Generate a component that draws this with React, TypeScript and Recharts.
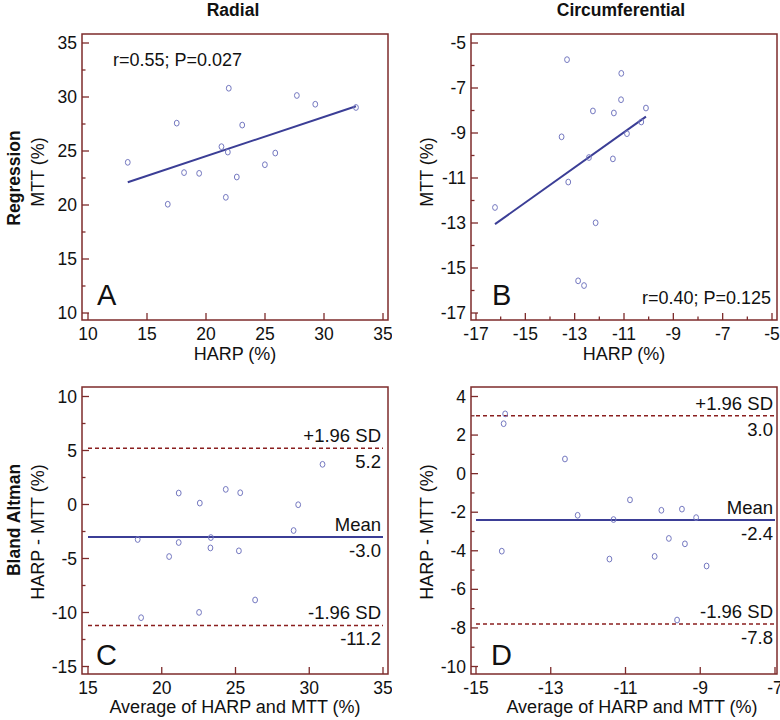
import { ComposedChart, Scatter, XAxis, YAxis, ReferenceLine } from "recharts";

const FONT = "'Liberation Sans', Arial, Helvetica, sans-serif";
const FRAME = "#7d2b2b";
const DOT = "#7478c0";
const LINE = "#3b3e96";
const DASH = "#8a1f1f";
const INK = "#111";

// A: radial regression
const radialHarp = [13.37, 16.76, 17.52, 18.14, 19.42, 21.31, 21.85, 21.93, 21.68, 22.61, 23.07, 24.99, 25.87, 27.7, 29.26, 32.71];
const radialMtt = [23.95, 20.07, 27.58, 23.0, 22.93, 25.4, 24.9, 30.81, 20.71, 22.59, 27.4, 23.73, 24.81, 30.14, 29.33, 29.03];
const radialFitX = [13.37, 32.71];
const radialFitY = [22.1, 29.15];

// B: circumferential regression
const circHarp = [-16.23, -13.53, -13.31, -13.26, -12.86, -12.62, -12.42, -12.26, -12.15, -11.45, -11.41, -11.12, -11.11, -10.88, -10.3, -10.11];
const circMtt = [-12.31, -9.17, -5.74, -11.18, -15.57, -15.78, -10.09, -8.02, -12.99, -10.15, -8.11, -7.52, -6.35, -9.03, -8.51, -7.89];
const circFitX = [-16.23, -10.11];
const circFitY = [-13.05, -8.27];

// C: radial Bland Altman
const radialAvg = [18.37, 18.6, 20.5, 21.15, 21.15, 22.58, 22.53, 23.33, 23.3, 24.34, 25.32, 25.23, 26.33, 28.94, 29.25, 30.9];
const radialDiff = [-3.24, -10.48, -4.82, 1.06, -3.52, 0.13, -9.99, -3.06, -4.02, 1.4, 1.09, -4.29, -8.84, -2.41, -0.02, 3.72];
const radialLimits = [5.2, -3.0, -11.2]; // +1.96 SD, mean, -1.96 SD

// D: circumferential Bland Altman
const circAvg = [-14.22, -14.26, -14.31, -12.62, -12.28, -11.43, -11.32, -10.88, -10.22, -10.04, -9.84, -9.62, -9.49, -9.41, -9.11, -8.83];
const circDiff = [3.1, 2.59, -4.02, 0.76, -2.16, -4.43, -2.38, -1.36, -4.29, -1.9, -3.36, -7.59, -1.84, -3.64, -2.28, -4.79];
const circLimits = [3.0, -2.4, -7.8];

// ticks (all) and labelled ticks
const aXTicks = [10, 15, 20, 25, 30, 35];
const aXLabels = [10, 15, 20, 25, 30, 35];
const aYTicks = [10, 12.5, 15, 17.5, 20, 22.5, 25, 27.5, 30, 32.5, 35];
const aYLabels = [10, 15, 20, 25, 30, 35];
const bTicks = [-17, -16, -15, -14, -13, -12, -11, -10, -9, -8, -7, -6, -5];
const bLabels = [-17, -15, -13, -11, -9, -7, -5];
const cXTicks = [15, 20, 25, 30, 35];
const cXLabels = [15, 20, 25, 30, 35];
const cYTicks = [-15, -12.5, -10, -7.5, -5, -2.5, 0, 2.5, 5, 7.5, 10];
const cYLabels = [-15, -10, -5, 0, 5, 10];
const dXTicks = [-15, -13, -11, -9, -7];
const dXLabels = [-15, -13, -11, -9, -7];
const dYTicks = [-10, -9, -8, -7, -6, -5, -4, -3, -2, -1, 0, 1, 2, 3, 4];
const dYLabels = [-10, -8, -6, -4, -2, 0, 2, 4];

const toPoints = (xs: number[], ys: number[]) => xs.map((x, i) => ({ x, y: ys[i] }));

function XTick(props: any) {
  const { x, y, payload, labels } = props;
  const major = labels.includes(payload.value);
  return (
    <g>
      <line x1={x} x2={x} y1={y} y2={y - (major ? 7 : 3.5)} stroke={FRAME} strokeWidth={1.3} />
      {major && (
        <text x={x} y={y + 20} textAnchor="middle" fontSize={17.5} fontFamily={FONT} fill={INK}>
          {payload.value}
        </text>
      )}
    </g>
  );
}

function YTick(props: any) {
  const { x, y, payload, labels } = props;
  const major = labels.includes(payload.value);
  return (
    <g>
      <line x1={x} x2={x + (major ? 7 : 3.5)} y1={y} y2={y} stroke={FRAME} strokeWidth={1.3} />
      {major && (
        <text x={x - 5} y={y + 6} textAnchor="end" fontSize={17.5} fontFamily={FONT} fill={INK}>
          {payload.value}
        </text>
      )}
    </g>
  );
}

const ring = (p: any) => (
  <ellipse cx={p.cx} cy={p.cy} rx={2.4} ry={2.9} fill="none" stroke={DOT} strokeWidth={1} />
);

const bandLabel = (top: string, bottom: string) => (props: any) => {
  const vb = props.viewBox;
  if (!vb) return null;
  const rx = vb.x + vb.width - 2;
  return (
    <g>
      <text x={rx} y={vb.y - 6} textAnchor="end" fontSize={18.5} fontFamily={FONT} fill={INK}>{top}</text>
      <text x={rx} y={vb.y + 20} textAnchor="end" fontSize={18.5} fontFamily={FONT} fill={INK}>{bottom}</text>
    </g>
  );
};

type PanelProps = {
  left: number;
  top: number;
  width: number;
  height: number;
  marginTop: number;
  marginRight: number;
  yAxisWidth: number;
  xAxisHeight: number;
  points: { x: number; y: number }[];
  xTicks: number[];
  xLabels: number[];
  yTicks: number[];
  yLabels: number[];
  xPad: { left: number; right: number };
  yPad: { top: number; bottom: number };
  children?: any;
};

function Panel(p: PanelProps) {
  const xDomain = [p.xTicks[0], p.xTicks[p.xTicks.length - 1]];
  const yDomain = [p.yTicks[0], p.yTicks[p.yTicks.length - 1]];
  return (
    <div style={{ position: "absolute", left: p.left, top: p.top }}>
      <ComposedChart
        width={p.width}
        height={p.height}
        margin={{ top: p.marginTop, right: p.marginRight, bottom: 2, left: 0 }}
      >
        <XAxis
          type="number"
          dataKey="x"
          domain={xDomain}
          ticks={p.xTicks}
          interval={0}
          padding={p.xPad}
          height={p.xAxisHeight}
          axisLine={false}
          tickLine={false}
          tickSize={0}
          tickMargin={0}
          tick={<XTick labels={p.xLabels} />}
        />
        <YAxis
          type="number"
          dataKey="y"
          domain={yDomain}
          ticks={p.yTicks}
          interval={0}
          padding={p.yPad}
          width={p.yAxisWidth}
          axisLine={false}
          tickLine={false}
          tickSize={0}
          tickMargin={0}
          tick={<YTick labels={p.yLabels} />}
        />
        {p.children}
        <Scatter data={p.points} shape={ring} isAnimationActive={false} />
      </ComposedChart>
    </div>
  );
}

const fitSegment = (xs: number[], ys: number[]) => [
  { x: xs[0], y: ys[0] },
  { x: xs[1], y: ys[1] },
];

function blandLines(xTicks: number[], limits: number[]) {
  const x0 = xTicks[0];
  const x1 = xTicks[xTicks.length - 1];
  const [upper, mean, lower] = limits;
  return [
    <ReferenceLine
      key="up"
      segment={[{ x: x0, y: upper }, { x: x1, y: upper }]}
      stroke={DASH}
      strokeWidth={1.5}
      strokeDasharray="4 3"
      label={bandLabel("+1.96 SD", upper.toFixed(1))}
    />,
    <ReferenceLine
      key="mean"
      segment={[{ x: x0, y: mean }, { x: x1, y: mean }]}
      stroke={LINE}
      strokeWidth={2}
      label={bandLabel("Mean", mean.toFixed(1))}
    />,
    <ReferenceLine
      key="low"
      segment={[{ x: x0, y: lower }, { x: x1, y: lower }]}
      stroke={DASH}
      strokeWidth={1.5}
      strokeDasharray="4 3"
      label={bandLabel("-1.96 SD", lower.toFixed(1))}
    />,
  ];
}

const txt = { fontFamily: FONT, fill: INK };

export default function App() {
  const topRow = { top: 0, height: 362, marginTop: 34, xAxisHeight: 40, yPad: { top: 9, bottom: 7 } };
  const botRow = { top: 360, height: 360, marginTop: 27, xAxisHeight: 44, yPad: { top: 9.5, bottom: 7.5 } };
  const leftCol = { left: 0, width: 392, yAxisWidth: 82, marginRight: 4 };
  const rightCol = { left: 390, width: 390, yAxisWidth: 81, marginRight: 3 };

  return (
    <div style={{ position: "absolute", left: 0, top: 0, width: 780, height: 720, background: "#fff", overflow: "hidden" }}>
      <Panel
        {...topRow}
        {...leftCol}
        points={toPoints(radialHarp, radialMtt)}
        xTicks={aXTicks}
        xLabels={aXLabels}
        yTicks={aYTicks}
        yLabels={aYLabels}
        xPad={{ left: 6, right: 5 }}
      >
        <ReferenceLine segment={fitSegment(radialFitX, radialFitY)} stroke={LINE} strokeWidth={2} />
      </Panel>
      <Panel
        {...topRow}
        {...rightCol}
        points={toPoints(circHarp, circMtt)}
        xTicks={bTicks}
        xLabels={bLabels}
        yTicks={bTicks}
        yLabels={bLabels}
        xPad={{ left: 5, right: 5 }}
      >
        <ReferenceLine segment={fitSegment(circFitX, circFitY)} stroke={LINE} strokeWidth={2} />
      </Panel>
      <Panel
        {...botRow}
        {...leftCol}
        points={toPoints(radialAvg, radialDiff)}
        xTicks={cXTicks}
        xLabels={cXLabels}
        yTicks={cYTicks}
        yLabels={cYLabels}
        xPad={{ left: 6, right: 5 }}
      >
        {blandLines(cXTicks, radialLimits)}
      </Panel>
      <Panel
        {...botRow}
        {...rightCol}
        points={toPoints(circAvg, circDiff)}
        xTicks={dXTicks}
        xLabels={dXLabels}
        yTicks={dYTicks}
        yLabels={dYLabels}
        xPad={{ left: 5, right: 2 }}
      >
        {blandLines(dXTicks, circLimits)}
      </Panel>

      <svg width={780} height={720} style={{ position: "absolute", left: 0, top: 0, pointerEvents: "none" }}>
        <g fill="none" stroke={FRAME} strokeWidth={1.5}>
          <rect x={82} y={34} width={306} height={286} />
          <rect x={471} y={34} width={306} height={286} />
          <rect x={82} y={387} width={306} height={287} />
          <rect x={471} y={387} width={306} height={287} />
        </g>

        <text x={233} y={16} textAnchor="middle" fontSize={17.5} fontWeight="bold" {...txt}>Radial</text>
        <text x={621} y={16} textAnchor="middle" fontSize={17.5} fontWeight="bold" {...txt}>Circumferential</text>
        <text x={20} y={178} transform="rotate(-90 20 178)" textAnchor="middle" fontSize={17.5} fontWeight="bold" {...txt}>Regression</text>
        <text x={20} y={520} transform="rotate(-90 20 520)" textAnchor="middle" fontSize={17.5} fontWeight="bold" {...txt}>Bland Altman</text>

        <text x={44} y={172} transform="rotate(-90 44 172)" textAnchor="middle" fontSize={18} {...txt}>MTT (%)</text>
        <text x={433} y={172} transform="rotate(-90 433 172)" textAnchor="middle" fontSize={18} {...txt}>MTT (%)</text>
        <text x={44} y={532} transform="rotate(-90 44 532)" textAnchor="middle" fontSize={18} {...txt}>HARP - MTT (%)</text>
        <text x={433} y={532} transform="rotate(-90 433 532)" textAnchor="middle" fontSize={18} {...txt}>HARP - MTT (%)</text>

        <text x={235} y={360} textAnchor="middle" fontSize={18} {...txt}>HARP (%)</text>
        <text x={624} y={360} textAnchor="middle" fontSize={18} {...txt}>HARP (%)</text>
        <text x={235} y={713} textAnchor="middle" fontSize={18} {...txt}>Average of HARP and MTT (%)</text>
        <text x={632} y={713} textAnchor="middle" fontSize={18} {...txt}>Average of HARP and MTT (%)</text>

        <text x={113} y={66} fontSize={18} {...txt}>r=0.55; P=0.027</text>
        <text x={771} y={304} textAnchor="end" fontSize={18} {...txt}>r=0.40; P=0.125</text>

        <text x={97} y={305} fontSize={29} {...txt}>A</text>
        <text x={492} y={305} fontSize={29} {...txt}>B</text>
        <text x={96} y={665} fontSize={29} {...txt}>C</text>
        <text x={491} y={665} fontSize={29} {...txt}>D</text>
      </svg>
    </div>
  );
}
